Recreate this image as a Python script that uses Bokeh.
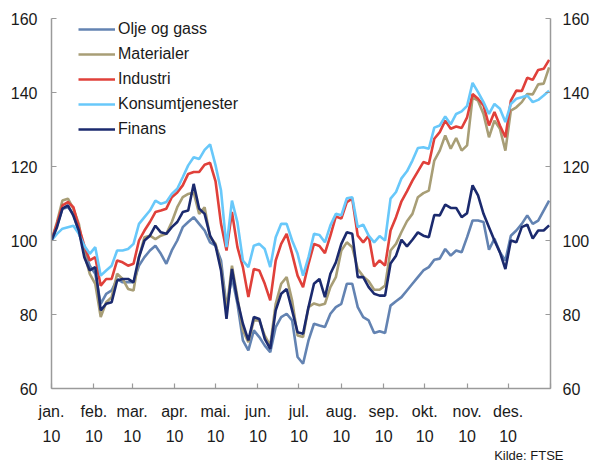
from bokeh.plotting import figure
from bokeh.models import LinearAxis, FixedTicker, Range1d, Legend, LegendItem, Title
from bokeh.embed import file_html
from bokeh.resources import INLINE

# sample days (day of year 2010), every 4th day
days = list(range(0, 365, 4))

olje = [100, 104, 108.6, 109, 107.2, 102.2, 97.3, 93.2, 91, 82.9,
        85.6, 86.5, 89.6, 88.7, 88.7, 88.7, 93.2, 95.5, 97.3, 98.6,
        96.4, 93.7, 97.3, 100, 103.6, 105, 106.3, 104.5, 102.7, 99.5,
        98.6, 94.6, 82, 90.1, 82.9, 73, 70.3, 75.7, 73.9, 71.6,
        69.8, 76.6, 79.3, 80.2, 78.4, 68.5, 66.7, 73, 77.5, 77,
        76.6, 80.2, 82, 82.9, 88.3, 88.3, 82, 79.3, 78.4, 75,
        75.5, 75, 82.4, 83.6, 84.7, 86.5, 88.3, 90.1, 91.9, 92.8,
        94.8, 95.1, 97.7, 95.9, 97.3, 96.8, 100.9, 105.4, 105.4, 105,
        97.5, 100.5, 96.8, 94.6, 101.3, 102.7, 104.5, 106.8, 104.5, 105.4,
        108.1, 110.8]

materialer = [100, 105, 110.8, 111.3, 108.6, 104.5, 96.4, 91, 88.3, 79.3,
              83.3, 84.7, 91, 89.6, 86.9, 86.5, 95.5, 100.9, 101.3, 100.4,
              101.3, 101.8, 105, 109, 111.7, 112.6, 113, 107.2, 109, 100.9,
              99.1, 92.8, 81.1, 93.2, 84.7, 75.7, 72.5, 78.4, 78.4, 74.3,
              71.6, 82.9, 88.3, 90.1, 83.8, 74.3, 73.9, 82, 83, 82.5,
              82.9, 87.4, 90.1, 97.3, 99.5, 98.2, 92.3, 90.3, 89, 86.7,
              86.7, 87.8, 97.3, 99.1, 102.3, 105.2, 107.2, 111.7, 112.8, 113.5,
              121.6, 124.3, 128.4, 124.8, 127.7, 124.3, 125.7, 138.7, 137.8, 134.2,
              127.9, 132.4, 130.2, 124.3, 135.1, 136, 137.4, 139.6, 139.5, 142.2,
              142.4, 146.8]

industri = [100, 104.5, 109.5, 110.4, 109, 103.6, 98.6, 94.6, 95.5, 87.8,
            89.6, 89.6, 94.6, 94.1, 93.2, 93.7, 100, 102.7, 105, 107.7,
            108.1, 108.6, 111.7, 113, 114.9, 118, 118.5, 118.5, 120.5, 121,
            116, 104.5, 97.3, 107.7, 98.2, 92.8, 84.7, 92.3, 91.9, 88.3,
            83.8, 94.6, 99.1, 101.8, 96.4, 90.5, 87.4, 93.7, 99.1, 98.5,
            96.6, 101.3, 106.5, 105.9, 110.4, 111.3, 101.3, 99.5, 101.3, 93,
            94.6, 93.2, 102.7, 106.3, 110.6, 113.3, 116.2, 118.7, 121.2, 120.7,
            127.5, 129.3, 132.4, 130.2, 130.8, 130.4, 133.3, 139.6, 138.3, 136.5,
            131.1, 134.7, 131.1, 127.9, 137.8, 140.5, 140.4, 144, 143.4, 146.1,
            146.4, 148.8]

konsum = [100, 101.8, 103.2, 103.6, 104, 101.8, 98.6, 96.4, 98.2, 90.5,
          91.9, 93.2, 97.3, 97.3, 97.7, 99.1, 104.5, 106.3, 108.1, 110.8,
          109.9, 110.4, 112.6, 114, 117.1, 120.3, 122.5, 122, 124.5, 126,
          120.3, 113.5, 98.2, 110.8, 104.9, 94.6, 92.8, 98.6, 99.1, 97.7,
          92.8, 100.9, 104.5, 104.5, 100, 96.4, 90.5, 95.5, 101.8, 101.5,
          99.5, 104.1, 107.2, 106.8, 111.4, 111.7, 103.6, 104.3, 101.3, 99.5,
          101.2, 100, 111.3, 113.1, 116.8, 118.7, 121.6, 125, 125.2, 124.8,
          130.5, 131.1, 133.5, 131.4, 134.2, 134.9, 136.4, 142.6, 140.1, 137.4,
          134.2, 136.9, 135.6, 132, 136.9, 138.3, 138.7, 139.2, 137.4, 138,
          139.2, 140.5]

finans = [100, 103.6, 108.6, 109.5, 106.7, 102.7, 95.5, 91.9, 92.8, 81.1,
          82.9, 83.3, 89.2, 89.6, 89.6, 88.7, 95.5, 100, 101.3, 104,
          102.2, 101.8, 103.6, 105, 107.7, 108.1, 115.3, 108.6, 107.2, 101.3,
          98.6, 91.9, 78.8, 92.3, 83.8, 77.5, 73, 79.3, 78.8, 73.4,
          70.7, 81.1, 85.6, 86.9, 81.1, 75.2, 74.8, 82, 88.3, 89.6,
          84.7, 91, 94.1, 99.1, 102.2, 101.8, 90.1, 90.1, 87.4, 85.6,
          85.1, 85.1, 93.8, 95.9, 100.2, 98.4, 100.2, 102.2, 101.3, 100.9,
          106.9, 106.8, 109.7, 108.8, 108.8, 106.3, 107.4, 114.9, 112.2, 107.2,
          103.6, 100, 96.8, 92.3, 100, 99.5, 103.6, 104.3, 100.5, 102.7,
          102.7, 104.1]

series_names = ["Olje og gass", "Materialer", "Industri", "Konsumtjenester", "Finans"]
series_values = [olje, materialer, industri, konsum, finans]
colors = ["#6383b2", "#a89e76", "#e0403a", "#68c8fa", "#1b2a6e"]

month_starts = [0, 31, 59, 90, 120, 151, 181, 212, 243, 273, 304, 334, 365]
month_labels = ["jan.", "feb.", "mar.", "apr.", "mai.", "jun.", "jul.",
                "aug.", "sep.", "okt.", "nov.", "des.", ""]
year_labels = ["10"] * 12 + [""]
y_ticks = [60, 80, 100, 120, 140, 160]

FONT = "Liberation Sans"
AXIS_GRAY = "#9a9a9a"
TEXT = "#1a1a1a"

p = figure(width=593, height=465, output_backend="svg", toolbar_location=None,
           x_range=Range1d(0, 365), y_range=Range1d(60, 160),
           x_axis_location=None, y_axis_location=None,
           min_border_left=51, min_border_right=43, min_border_top=18,
           min_border_bottom=77)
p.outline_line_color = None
p.xgrid.visible = False
p.ygrid.visible = False


def style(ax, standoff):
    ax.axis_line_color = AXIS_GRAY
    ax.axis_line_width = 1.5
    ax.major_tick_line_color = AXIS_GRAY
    ax.major_tick_line_width = 1.2
    ax.major_tick_in = 5
    ax.major_tick_out = 0
    ax.minor_tick_line_color = None
    ax.major_label_text_font = FONT
    ax.major_label_text_font_size = "16px"
    ax.major_label_text_color = TEXT
    ax.major_label_standoff = standoff


left = LinearAxis(ticker=FixedTicker(ticks=y_ticks))
style(left, 14)
p.add_layout(left, "left")

right = LinearAxis(ticker=FixedTicker(ticks=y_ticks))
style(right, 12)
p.add_layout(right, "right")

bottom = LinearAxis(ticker=FixedTicker(ticks=month_starts),
                    major_label_overrides=dict(zip(month_starts, month_labels)))
style(bottom, 14)
p.add_layout(bottom, "below")

bottom2 = LinearAxis(ticker=FixedTicker(ticks=month_starts),
                     major_label_overrides=dict(zip(month_starts, year_labels)))
style(bottom2, 7)
bottom2.axis_line_color = None
bottom2.major_tick_line_color = None
p.add_layout(bottom2, "below")

items = []
for name, vals, col in zip(series_names, series_values, colors):
    r = p.line(days, vals, line_color=col, line_width=2.6)
    items.append(LegendItem(label=name, renderers=[r]))

legend = Legend(items=items, location=(27, 249), orientation="vertical",
                glyph_width=37, glyph_height=20, label_height=20,
                label_standoff=3, spacing=5, padding=0, margin=0,
                label_text_font=FONT, label_text_font_size="16px",
                label_text_color=TEXT, border_line_color=None,
                background_fill_alpha=0)
p.add_layout(legend)

src = Title(text="Kilde: FTSE", align="right", offset=-13, standoff=2,
            text_font=FONT, text_font_size="13px", text_font_style="normal",
            text_color=TEXT)
p.add_layout(src, "below")

open("out.html", "w").write(file_html(p, INLINE))
